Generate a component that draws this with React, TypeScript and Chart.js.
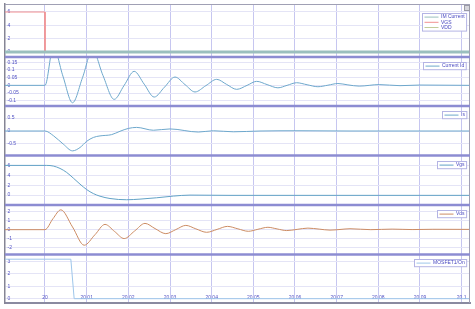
import { useEffect, useRef } from "react";
import { Chart, registerables } from "chart.js";

Chart.register(...registerables);

// ---------- X axis ----------
const xMin = 19.9904;
const xMax = 20.102;
const xTicks = [20, 20.01, 20.02, 20.03, 20.04, 20.05, 20.06, 20.07, 20.08, 20.09, 20.1];
const xTickLabels = ["20", "20.01", "20.02", "20.03", "20.04", "20.05", "20.06", "20.07", "20.08", "20.09", "20.1"];

// ---------- Panel 1: IM Current / VGS / VDD ----------
const p1Ticks = [0, 2, 4, 6];
const imCurrentT = [19.9904, 20.102];
const imCurrentV = [0, 0];
const vgsSrcT = [19.9904, 20.0, 20.0, 20.102];
const vgsSrcV = [6, 6, 0, 0];
const vddT = [19.9904, 20.102];
const vddV = [0, 0];

// ---------- Panel 2: Current Id ----------
const idTicks = [-0.1, -0.05, 0, 0.05, 0.1, 0.15];
const idT = [19.9904, 20.0, 20.002, 20.0043, 20.0066, 20.009, 20.0114, 20.0139, 20.0166, 20.019, 20.0214, 20.0238, 20.0262, 20.0287, 20.0312, 20.0336, 20.036, 20.0386, 20.0412, 20.0436, 20.046, 20.0485, 20.0508, 20.0533, 20.0559, 20.0581, 20.0604, 20.0629, 20.0655, 20.0679, 20.0703, 20.0727, 20.0754, 20.0802, 20.0852, 20.09, 20.102];
const idV = [0, 0, 0.25, 0.06, -0.113, 0.05, 0.23, 0.065, -0.091, 0.0, 0.091, 0.008, -0.076, -0.011, 0.054, 0.005, -0.043, -0.002, 0.039, 0.006, -0.026, 0.0, 0.026, 0.005, -0.016, 0.0, 0.017, 0.004, -0.009, 0.001, 0.012, 0.003, -0.005, 0.005, -0.002, 0.002, 0.0];

// ---------- Panel 3: Is ----------
const isTicks = [-0.5, 0, 0.5];
const isT = [19.9904, 20.0, 20.002, 20.0044, 20.0066, 20.0084, 20.01, 20.0116, 20.0132, 20.016, 20.018, 20.02, 20.022, 20.026, 20.03, 20.0368, 20.0404, 20.0452, 20.0516, 20.0612, 20.0732, 20.102];
const isV = [0, 0, -0.18, -0.51, -0.77, -0.64, -0.4, -0.25, -0.19, -0.14, -0.01, 0.1, 0.14, 0.03, 0.08, -0.04, 0.01, -0.03, 0.0, 0.01, 0.0, 0.0];

// ---------- Panel 4: Vgs ----------
const vgsTicks = [0, 2, 4, 6];
const vgsT = [19.9904, 20.0004, 20.002, 20.0036, 20.0052, 20.0068, 20.0084, 20.01, 20.0116, 20.0132, 20.0156, 20.0196, 20.0228, 20.0268, 20.0308, 20.0348, 20.0444, 20.102];
const vgsV = [6, 6, 5.87, 5.39, 4.58, 3.43, 2.22, 1.12, 0.31, -0.22, -0.69, -0.94, -0.81, -0.54, -0.2, 0.0, -0.05, -0.05];

// ---------- Panel 5: Vds ----------
const vdsTicks = [-2, -1, 0, 1, 2];
const vdsT = [19.9904, 20.0, 20.0019, 20.0038, 20.0066, 20.0094, 20.012, 20.0144, 20.0167, 20.019, 20.0215, 20.024, 20.0264, 20.029, 20.0314, 20.0338, 20.0362, 20.0388, 20.0413, 20.0438, 20.0463, 20.0488, 20.0511, 20.0535, 20.0557, 20.058, 20.0605, 20.0631, 20.0658, 20.0684, 20.0708, 20.0732, 20.0782, 20.0833, 20.0881, 20.0931, 20.102];
const vdsV = [0, 0, 1.2, 2.18, 0.3, -1.71, -0.55, 0.58, -0.2, -0.98, -0.15, 0.69, 0.12, -0.44, 0.01, 0.47, 0.09, -0.29, 0.03, 0.36, 0.09, -0.18, 0.04, 0.26, 0.08, -0.1, 0.03, 0.17, 0.06, -0.05, 0.02, 0.1, 0.0, 0.06, 0.01, 0.04, 0.03];

// ---------- Panel 6: MOSFET1/On ----------
const onTicks = [0, 1, 2, 3];
const onT = [19.9904, 20.0062, 20.007, 20.102];
const onV = [3.2, 3.2, 0, 0];

const FONT = "'Liberation Sans', Arial, sans-serif";
const TICK_COLOR = "#5252c4";

const pts = (t: number[], v: number[]) => t.map((x, i) => ({ x, y: v[i] }));

const panelIds = ["p1", "p2", "p3", "p4", "p5", "p6"];
const legendOffsets: Record<string, number> = { p1: 8.5, p2: 4.5, p3: 5, p4: 5, p5: 4.8, p6: 4.8 };

function yScale(min: number, max: number, weight: number, ticks: number[]) {
  return {
    type: "linear" as const,
    position: "left" as const,
    stack: "panels",
    stackWeight: weight,
    min,
    max,
    afterBuildTicks: (s: any) => {
      s.ticks = ticks.map((v) => ({ value: v }));
    },
    afterFit: (s: any) => {
      s.width = 0;
      s.paddingTop = 0;
      s.paddingBottom = 0;
    },
    ticks: {
      mirror: true,
      autoSkip: false,
      padding: 2.5,
      color: TICK_COLOR,
      font: { size: 5, family: FONT },
      callback: (v: any) => String(v),
    },
    grid: { color: "#e4e4f6", lineWidth: 1, drawTicks: false },
    border: { color: "#858595", width: 1.5 },
  };
}

const framePlugin = {
  id: "frame",
  afterDatasetsDraw(chart: any) {
    const { ctx, chartArea: a } = chart;
    ctx.save();
    ctx.strokeStyle = "#a0a0b4";
    ctx.lineWidth = 1;
    ctx.beginPath();
    ctx.moveTo(a.right - 0.5, a.top);
    ctx.lineTo(a.right - 0.5, a.bottom);
    ctx.moveTo(a.left, a.top + 0.5);
    ctx.lineTo(a.right, a.top + 0.5);
    ctx.stroke();
    ctx.strokeStyle = "#8c8cd2";
    ctx.lineWidth = 2.5;
    panelIds.slice(1).forEach((id) => {
      const y = chart.scales[id].top;
      ctx.beginPath();
      ctx.moveTo(a.left, y);
      ctx.lineTo(a.right, y);
      ctx.stroke();
    });
    ctx.restore();
  },
  afterDraw(chart: any) {
    const { ctx, chartArea: a } = chart;
    ctx.save();
    ctx.font = `5px ${FONT}`;
    ctx.textBaseline = "middle";
    panelIds.forEach((id) => {
      const scale = chart.scales[id];
      const ds = chart.data.datasets.filter((d: any) => d.yAxisID === id);
      const textW = Math.max(...ds.map((d: any) => ctx.measureText(d.label).width));
      const lineLen = 14;
      const gap = 2.5;
      const pad = 2;
      const rowH = 5.2;
      const w = pad + lineLen + gap + textW + pad;
      const h = ds.length * rowH + 2;
      const x0 = Math.round(a.right - 4 - w) + 0.5;
      const y0 = Math.round(scale.top + legendOffsets[id]) + 0.5;
      ctx.fillStyle = "#ffffff";
      ctx.fillRect(x0, y0, w, h);
      ctx.strokeStyle = "#b4b4e4";
      ctx.lineWidth = 1;
      ctx.strokeRect(x0, y0, w, h);
      ds.forEach((d: any, i: number) => {
        const cy = y0 + 1 + rowH * (i + 0.5);
        ctx.strokeStyle = d.borderColor;
        ctx.lineWidth = 1;
        ctx.beginPath();
        ctx.moveTo(x0 + pad, cy);
        ctx.lineTo(x0 + pad + lineLen, cy);
        ctx.stroke();
        ctx.fillStyle = "#4848c0";
        ctx.textAlign = "left";
        ctx.fillText(d.label, x0 + pad + lineLen + gap, cy);
      });
    });
    ctx.fillStyle = "#d6d6dc";
    ctx.strokeStyle = "#9a9aa6";
    ctx.lineWidth = 1;
    ctx.fillRect(464.5, 5.5, 5, 5);
    ctx.strokeRect(464.5, 5.5, 5, 5);
    ctx.restore();
  },
};

export default function App() {
  const ref = useRef<HTMLCanvasElement | null>(null);

  useEffect(() => {
    if (!ref.current) return;
    const base = { pointRadius: 0, fill: false, borderWidth: 1, cubicInterpolationMode: "monotone" as const };
    const chart = new Chart(ref.current, {
      type: "line",
      data: {
        datasets: [
          { ...base, label: "IM Current", yAxisID: "p1", data: pts(imCurrentT, imCurrentV), borderColor: "#9bbfbe", borderWidth: 3, tension: 0, cubicInterpolationMode: "default" },
          { ...base, label: "VGS", yAxisID: "p1", data: pts(vgsSrcT, vgsSrcV), borderColor: "#f29090", tension: 0, cubicInterpolationMode: "default" },
          { ...base, label: "VDD", yAxisID: "p1", data: pts(vddT, vddV), borderColor: "#c2cc9a", tension: 0, cubicInterpolationMode: "default" },
          { ...base, label: "Current Id", yAxisID: "p2", data: pts(idT, idV), borderColor: "#6ea8cc" },
          { ...base, label: "Is", yAxisID: "p3", data: pts(isT, isV), borderColor: "#6ea8cc" },
          { ...base, label: "Vgs", yAxisID: "p4", data: pts(vgsT, vgsV), borderColor: "#62a2c6" },
          { ...base, label: "Vds", yAxisID: "p5", data: pts(vdsT, vdsV), borderColor: "#cc8c64" },
          { ...base, label: "MOSFET1/On", yAxisID: "p6", data: pts(onT, onV), borderColor: "#9ec6ea", tension: 0, cubicInterpolationMode: "default" },
        ] as any,
      },
      options: {
        animation: false,
        responsive: false,
        layout: { padding: { left: 5, right: 5, top: 4, bottom: 6 } },
        plugins: { legend: { display: false }, tooltip: { enabled: false } },
        scales: {
          x: {
            type: "linear",
            position: "bottom",
            min: xMin,
            max: xMax,
            afterBuildTicks: (s: any) => {
              s.ticks = xTicks.map((v) => ({ value: v }));
            },
            afterFit: (s: any) => {
              s.height = 0;
              s.paddingLeft = 0;
              s.paddingRight = 0;
            },
            ticks: {
              mirror: true,
              padding: 2,
              autoSkip: false,
              minRotation: 0,
              maxRotation: 0,
              color: TICK_COLOR,
              font: { size: 5, family: FONT },
              callback: (_v: any, i: number) => xTickLabels[i],
            },
            grid: { color: "#c6c6f0", lineWidth: 1, drawTicks: false },
            border: { color: "#8a8aa0", width: 2 },
          },
          // defined bottom-to-top: Chart.js stacks left axes in reverse order
          p6: yScale(-0.35, 3.58, 48.5, onTicks),
          p5: yScale(-2.73, 2.71, 49.5, vdsTicks),
          p4: yScale(-2.0, 8.0, 49.5, vgsTicks),
          p3: yScale(-0.95, 0.97, 49.5, isTicks),
          p2: yScale(-0.134, 0.184, 49, idTicks),
          p1: yScale(-0.75, 7.2, 53, p1Ticks),
        } as any,
      },
      plugins: [framePlugin],
    });
    return () => chart.destroy();
  }, []);

  return (
    <div style={{ position: "absolute", left: 0, top: 0, width: 475, height: 309, background: "#fff" }}>
      <canvas ref={ref} width={475} height={309} />
    </div>
  );
}
